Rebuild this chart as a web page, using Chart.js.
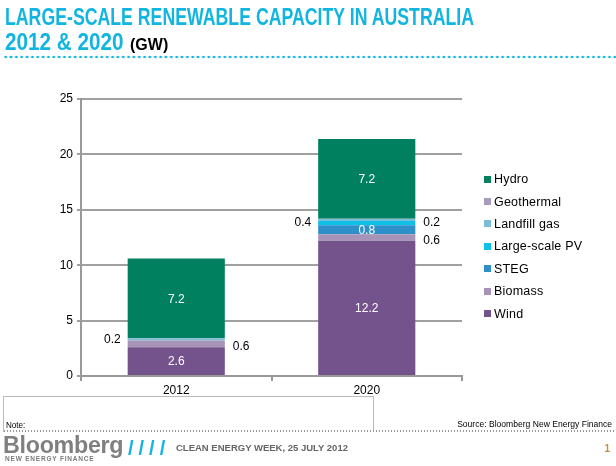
<!DOCTYPE html>
<html>
<head>
<meta charset="utf-8">
<script src="https://cdn.jsdelivr.net/npm/chart.js@4.4.1/dist/chart.umd.min.js"></script>
<style>
  html, body { margin: 0; padding: 0; background: #fff; }
  body { width: 616px; height: 466px; position: relative; overflow: hidden; font-family: "Liberation Sans", Arial, sans-serif; }
  #wrap { position: absolute; left: 0; top: 0; width: 616px; height: 466px; }
  .title { position: absolute; left: 5px; color: #12b5e2; font-weight: bold; font-size: 23px; line-height: 24px; white-space: nowrap; transform-origin: 0 50%; }
  .title b { display: inline-block; transform-origin: 0 50%; }
  .title span { color: #000; font-size: 16px; display: inline-block; }
  #dots { position: absolute; left: 3px; top: 55px; width: 613px; height: 4px;
    background-image: radial-gradient(circle, #12b5e2 1.2px, transparent 1.6px); background-size: 5.35px 4px; }
  #legend { position: absolute; left: 484px; top: 168px; }
  .item { height: 22.4px; display: flex; align-items: center; font-size: 12.5px; color: #000; letter-spacing: 0.2px; }
  .item i { display: inline-block; width: 7px; height: 7px; margin-right: 3px; }
  #note { position: absolute; left: 3px; top: 396px; width: 369px; height: 35px; border: 1px solid #bbb; border-bottom: none; }
  #note div { position: absolute; left: 2px; bottom: 2px; font-size: 9px; transform: scaleX(0.9); transform-origin: 0 50%; }
  #source { position: absolute; right: 4px; top: 419px; font-size: 9px; transform: scaleX(0.95); transform-origin: 100% 50%; }
  #foot-dots { position: absolute; left: 3px; top: 430px; width: 613px; height: 2px;
    background-image: radial-gradient(circle, #999 0.6px, transparent 0.9px); background-size: 3px 2px; }
  #logo { position: absolute; left: 3px; top: 431px; color: #808080; font-weight: bold; font-size: 24px; letter-spacing: -0.3px; transform: scaleX(0.97); transform-origin: 0 50%; }
  #logo-sub { position: absolute; left: 5px; top: 455px; color: #7a7a7a; font-weight: bold; font-size: 6.5px; letter-spacing: 0.8px; }
  #slashes { position: absolute; left: 128px; top: 437px; color: #12b5e2; font-size: 20px; font-weight: bold; letter-spacing: 5px; }
  #event { position: absolute; left: 176px; top: 442px; color: #666; font-weight: bold; font-size: 9.5px; }
  #page { position: absolute; right: 6px; top: 443px; color: #d08a3c; font-size: 10px; font-weight: bold; }
</style>
</head>
<body>
<div id="wrap"><canvas id="chart" width="616" height="466"></canvas></div>
<div class="title" style="top:5px; transform: scaleX(0.77)">LARGE-SCALE RENEWABLE CAPACITY IN AUSTRALIA</div>
<div class="title" style="top:30px"><b style="transform: scaleX(0.9); width: 125px">2012 &amp; 2020</b><span>(GW)</span></div>
<div id="dots"></div>
<div id="legend"></div>
<div id="note"><div>Note:</div></div>
<div id="source">Source: Bloomberg New Energy Finance</div>
<div id="foot-dots"></div>
<div id="logo">Bloomberg</div>
<div id="logo-sub">NEW ENERGY FINANCE</div>
<div id="slashes">////</div>
<div id="event">CLEAN ENERGY WEEK, 25 JULY 2012</div>
<div id="page">1</div>
<script>
// categories and tick labels
const years = ['2012', '2020'];
const yTicks = [0, 5, 10, 15, 20, 25];

// series values (GW), bottom to top
const wind = [2.6, 12.2];
const biomass = [0.6, 0.6];
const steg = [0, 0.8];
const largePV = [0, 0.4];
const landfill = [0.2, 0.2];
const geothermal = [0, 0];
const hydro = [7.2, 7.2];

// where each series' value label sits, per year
const windSide = ['in', 'in'];
const biomassSide = ['right', 'right'];
const stegSide = ['in', 'in'];
const pvSide = ['left', 'left'];
const landfillSide = ['left', 'right'];
const geoSide = ['none', 'none'];
const hydroSide = ['in', 'in'];

const series = [
  { label: 'Wind', data: wind, color: '#74538d', side: windSide },
  { label: 'Biomass', data: biomass, color: '#a893b8', side: biomassSide },
  { label: 'STEG', data: steg, color: '#2e8fc9', side: stegSide },
  { label: 'Large-scale PV', data: largePV, color: '#0cc0e8', side: pvSide },
  { label: 'Landfill gas', data: landfill, color: '#7dbcd6', side: landfillSide },
  { label: 'Geothermal', data: geothermal, color: '#a89cbc', side: geoSide },
  { label: 'Hydro', data: hydro, color: '#00805f', side: hydroSide }
];

// html legend, top entry is the top series
const legend = document.getElementById('legend');
series.slice().reverse().forEach(s => {
  const d = document.createElement('div');
  d.className = 'item';
  d.innerHTML = '<i style="background:' + s.color + '"></i>' + s.label;
  legend.appendChild(d);
});

const valueLabels = {
  id: 'valueLabels',
  afterDatasetsDraw(chart) {
    const c = chart.ctx;
    c.save();
    c.font = '12px "Liberation Sans", Arial, sans-serif';
    c.textBaseline = 'middle';
    chart.data.datasets.forEach((ds, i) => {
      const meta = chart.getDatasetMeta(i);
      meta.data.forEach((bar, j) => {
        const v = ds.data[j];
        const side = series[i].side[j];
        if (!v || side === 'none') return;
        const p = bar.getProps(['x', 'y', 'base', 'width'], true);
        const y = (p.y + p.base) / 2;
        const txt = v.toFixed(1);
        if (side === 'in') {
          c.fillStyle = '#fff';
          c.textAlign = 'center';
          c.fillText(txt, p.x, y + 1);
        } else if (side === 'right') {
          c.fillStyle = '#000';
          c.textAlign = 'left';
          c.fillText(txt, p.x + p.width / 2 + 8, y + 3);
        } else {
          c.fillStyle = '#000';
          c.textAlign = 'right';
          c.fillText(txt, p.x - p.width / 2 - 7, y);
        }
      });
    });
    c.restore();
  }
};

const ctx = document.getElementById('chart').getContext('2d');
new Chart(ctx, {
  type: 'bar',
  data: {
    labels: years,
    datasets: series.map(s => ({
      label: s.label,
      data: s.data,
      backgroundColor: s.color,
      borderWidth: 0,
      categoryPercentage: 1,
      barPercentage: 0.51
    }))
  },
  options: {
    responsive: false,
    animation: false,
    layout: { padding: { top: 99, left: 0, right: 154, bottom: 70 } },
    plugins: { legend: { display: false }, tooltip: { enabled: false } },
    scales: {
      x: {
        stacked: true,
        afterFit: s => { s.height = 20; },
        grid: { drawOnChartArea: false, tickLength: 5, color: '#999', lineWidth: 2 },
        border: { color: '#999', width: 2 },
        ticks: { color: '#000', font: { size: 12, family: '"Liberation Sans", Arial' }, padding: 2 }
      },
      y: {
        stacked: true,
        min: yTicks[0],
        max: yTicks[yTicks.length - 1],
        afterFit: s => { s.width = 81; },
        afterBuildTicks: s => { s.ticks = yTicks.map(v => ({ value: v })); },
        grid: { color: '#a0a0a0', lineWidth: 2, borderDash: [3, 1], tickLength: 4, tickBorderDash: [] },
        border: { color: '#999', width: 2 },
        ticks: { color: '#000', font: { size: 12, family: '"Liberation Sans", Arial' }, padding: 4 }
      }
    }
  },
  plugins: [valueLabels]
});
</script>
</body>
</html>
